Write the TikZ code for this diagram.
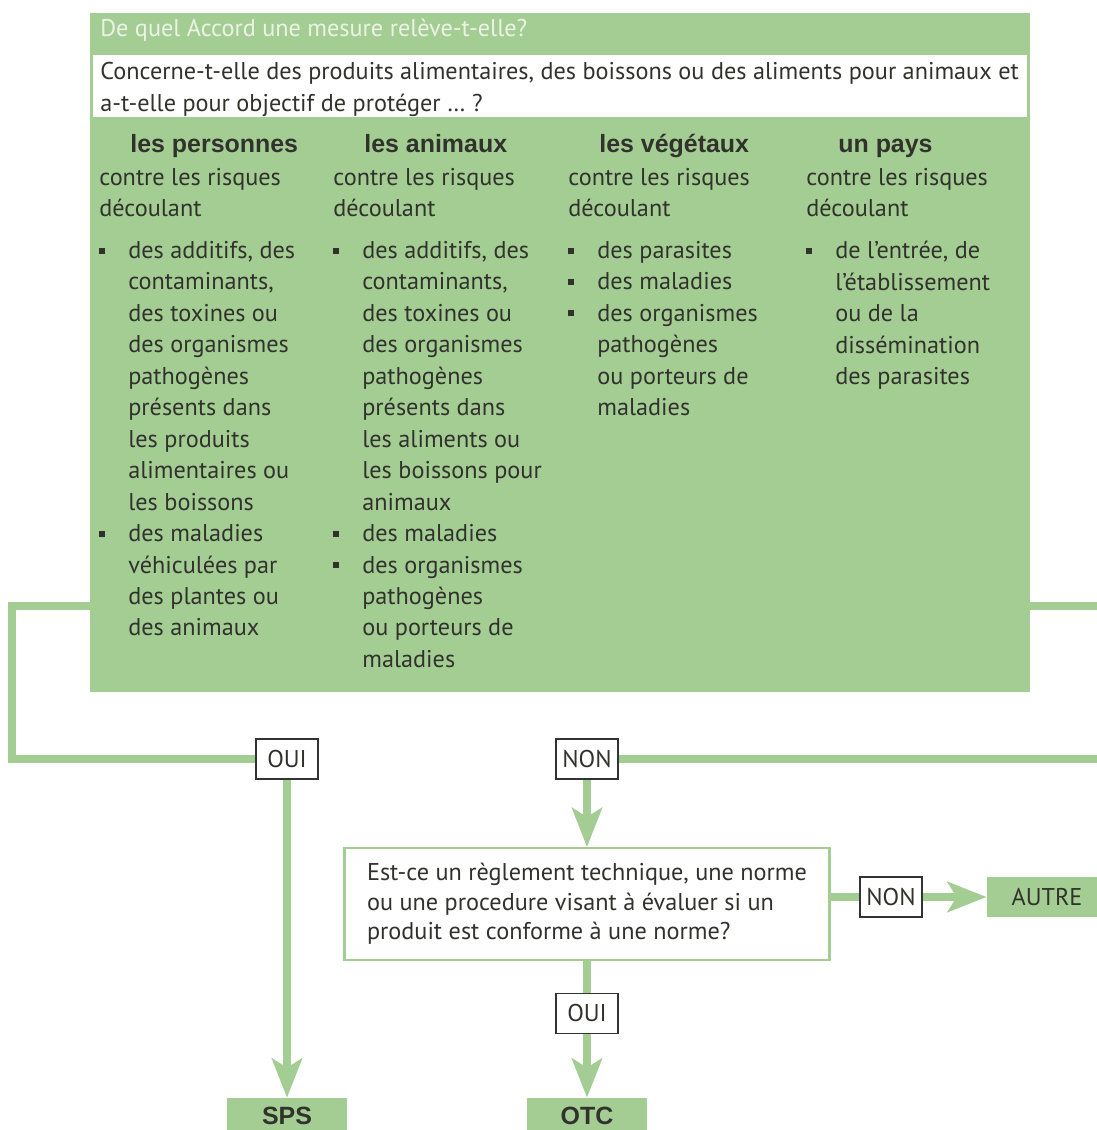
\documentclass[tikz,border=0pt]{standalone}
\usepackage{fontspec}
\setmainfont{PT Sans}
\newfontfamily\headfont{Liberation Sans}
\usetikzlibrary{positioning,arrows.meta}

\definecolor{accordgreen}{RGB}{164,205,148}
\definecolor{titlegrey}{RGB}{236,243,230}
\definecolor{inkgrey}{RGB}{50,50,45}

% puces des listes
\newcommand{\dotitem}{\makebox[0.58cm][l]{\rule[0.1cm]{0.12cm}{0.12cm}}}
\newcommand{\noitem}{\hspace*{0.58cm}}

\begin{document}
\begin{tikzpicture}[x = 0.02cm, y = -0.02cm, node distance = 2.2cm, on grid,
                    font = \fontsize{13.8}{17.9}\selectfont,
                    text = inkgrey,
                    greenbox/.style = {rectangle,
                                       fill = accordgreen,
                                       inner sep = 0pt},
                    strip/.style    = {rectangle,
                                       fill = white,
                                       inner sep = 0pt,
                                       minimum width = 18.7cm,
                                       minimum height = 1.24cm},
                    heading/.style  = {anchor = base west,
                                       inner sep = 0pt,
                                       font = \headfont\fontsize{14.2}{17.9}\selectfont\bfseries},
                    para/.style     = {anchor = north west,
                                       align = left,
                                       inner sep = 0pt},
                    answer/.style   = {rectangle,
                                       draw = black!80,
                                       line width = 0.9pt,
                                       fill = white,
                                       inner xsep = 2pt,
                                       minimum width = 1.24cm,
                                       minimum height = 0.8cm},
                    result/.style   = {rectangle,
                                       fill = accordgreen,
                                       inner sep = 0pt,
                                       minimum width = 2.4cm,
                                       minimum height = 0.72cm},
                    question/.style = {rectangle,
                                       draw = accordgreen,
                                       line width = 1.2pt,
                                       fill = white,
                                       align = left,
                                       inner sep = 0pt,
                                       minimum width = 9.7cm,
                                       minimum height = 2.24cm,
                                       font = \fontsize{13.8}{16.8}\selectfont},
                    flow/.style     = {draw = accordgreen,
                                       line width = 0.16cm},
                    flowarrow/.style = {flow,
                                        -{Stealth[length = 0.78cm, width = 0.6cm, inset = 0.18cm]}}]

\useasboundingbox (0,0) rectangle (1097,1130);

% grand cadre vert
\node[greenbox, minimum width = 18.8cm, minimum height = 13.58cm] (accord) at (560,352.5) {};
\node[anchor = base west, inner sep = 0pt, text = titlegrey] (titre) at (100,36)
     {De quel Accord une mesure relève-t-elle?};
\node[strip] (bande) at (560,86) {};
\node[para] (objectif) at (100,62)
     {Concerne-t-elle des produits alimentaires, des boissons ou des aliments pour animaux et\\
      a-t-elle pour objectif de protéger … ?};

% colonnes
\node[heading] (perstitle) at (130,152) {les personnes};
\node[heading] (animtitle) at (364,152) {les animaux};
\node[heading] (vegtitle)  at (599,152) {les végétaux};
\node[heading] (paystitle) at (838,152) {un pays};

\node[para] (persrisk) at (99,168)  {contre les risques\\découlant};
\node[para] (animrisk) at (333,168) {contre les risques\\découlant};
\node[para] (vegrisk)  at (568,168) {contre les risques\\découlant};
\node[para] (paysrisk) at (806,168) {contre les risques\\découlant};

\node[para] (perslist) at (99,241)
     {\dotitem des additifs, des\\
      \noitem contaminants,\\
      \noitem des toxines ou\\
      \noitem des organismes\\
      \noitem pathogènes\\
      \noitem présents dans\\
      \noitem les produits\\
      \noitem alimentaires ou\\
      \noitem les boissons\\
      \dotitem des maladies\\
      \noitem véhiculées par\\
      \noitem des plantes ou\\
      \noitem des animaux};
\node[para] (animlist) at (333,241)
     {\dotitem des additifs, des\\
      \noitem contaminants,\\
      \noitem des toxines ou\\
      \noitem des organismes\\
      \noitem pathogènes\\
      \noitem présents dans\\
      \noitem les aliments ou\\
      \noitem les boissons pour\\
      \noitem animaux\\
      \dotitem des maladies\\
      \dotitem des organismes\\
      \noitem pathogènes\\
      \noitem ou porteurs de\\
      \noitem maladies};
\node[para] (veglist) at (568,241)
     {\dotitem des parasites\\
      \dotitem des maladies\\
      \dotitem des organismes\\
      \noitem pathogènes\\
      \noitem ou porteurs de\\
      \noitem maladies};
\node[para] (payslist) at (806,241)
     {\dotitem de l’entrée, de\\
      \noitem l’établissement\\
      \noitem ou de la\\
      \noitem dissémination\\
      \noitem des parasites};

% reponses et resultats
\node[answer] (oui) at (287,759) {OUI};
\node[answer] (non) at (587,759) {NON};
\node[question] (regle) at (587,904)
     {Est-ce un règlement technique, une norme\\
      ou une procedure visant à évaluer si un\\
      produit est conforme à une norme?};
\node[answer] (non2) at (891,897) {NON};
\node[answer] (oui2) [below = 2.19cm of regle] {OUI};
\node[result, font = \headfont\fontsize{14.2}{17.9}\selectfont\bfseries] (sps) at (287,1116) {SPS};
\node[result, font = \headfont\fontsize{14.2}{17.9}\selectfont\bfseries] (otc) [below = 2.05cm of oui2] {OTC};
\node[result, minimum height = 0.8cm] (autre) at (1047,897) {AUTRE};

\coordinate (coin) at (12,606);
\coordinate (bordA) at (1097,606);
\coordinate (bordB) at (1097,759);

% connecteurs
\draw[flow] (accord.west |- coin) -- (coin) |- (oui);
\draw[flow] (accord.east |- bordA) -- (bordA);
\draw[flow] (non) -- (bordB);
\draw[flowarrow] (oui) -- (sps);
\draw[flowarrow] (non) -- (regle);
\draw[flow] (regle.east |- non2) -- (non2);
\draw[flowarrow] (non2) -- (autre);
\draw[flow] (regle) -- (oui2);
\draw[flowarrow] (oui2) -- (otc);

\end{tikzpicture}
\end{document}
